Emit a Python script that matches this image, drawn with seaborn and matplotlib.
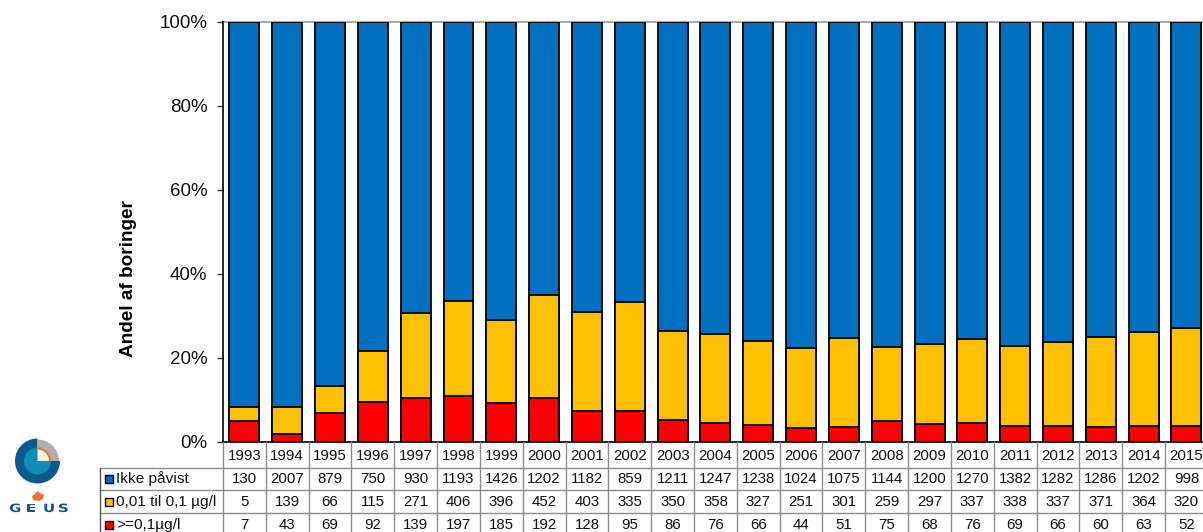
import numpy as np
import pandas as pd
import seaborn as sns
import matplotlib.pyplot as plt
from matplotlib.patches import Rectangle, Wedge, Circle, Polygon, PathPatch
from matplotlib.textpath import TextPath
from matplotlib.font_manager import FontProperties
from matplotlib.transforms import Affine2D

years = list(range(1993, 2016))
ikke = [130, 2007, 879, 750, 930, 1193, 1426, 1202, 1182, 859, 1211, 1247, 1238, 1024, 1075, 1144, 1200, 1270, 1382, 1282, 1286, 1202, 998]
mellem = [5, 139, 66, 115, 271, 406, 396, 452, 403, 335, 350, 358, 327, 251, 301, 259, 297, 337, 338, 337, 371, 364, 320]
hoej = [7, 43, 69, 92, 139, 197, 185, 192, 128, 95, 86, 76, 66, 44, 51, 75, 68, 76, 69, 66, 60, 63, 52]
names = ['Ikke påvist', '0,01 til 0,1 µg/l', '>=0,1µg/l']
colors = ['#0070C0', '#FFC000', '#FF0000']

sns.set_theme(style='white')
plt.rcParams['font.family'] = ['Liberation Sans', 'DejaVu Sans']

W, H = 1203, 532
fig = plt.figure(figsize=(W / 100, H / 100), dpi=100, facecolor='white')
step = 42.82
ax = fig.add_axes([223 / W, (H - 442) / H, 23 * step / W, 420 / H])

df = pd.DataFrame({'year': years, 'ikke': ikke, 'mellem': mellem, 'hoej': hoej})
total = df['ikke'] + df['mellem'] + df['hoej']
df['top'] = 100.0
df['mid'] = (df['mellem'] + df['hoej']) / total * 100
df['low'] = df['hoej'] / total * 100

# tallest first, the shorter ones are painted over it
for col, c in zip(['top', 'mid', 'low'], colors):
    sns.barplot(data=df, x='year', y=col, color=c, width=0.7, saturation=1,
                edgecolor='black', linewidth=1.3, ax=ax, zorder=3)

ax.set_xlim(-0.5, 22.5)
ax.set_ylim(0, 100)
ax.set_yticks(range(0, 101, 20))
ax.set_yticklabels([f'{v}%' for v in range(0, 101, 20)], fontsize=13.5, color='#111111')
ax.set_xticks([])
ax.set_xlabel('')
ax.set_ylabel('Andel af boringer', fontsize=13.7, fontweight='bold', color='black')
ax.yaxis.set_label_coords(-86 / (23 * step), 0.39)
ax.tick_params(axis='y', left=True, length=4.3, width=1, color='#333333', pad=7)
sns.despine(ax=ax, top=True, right=True)
ax.spines['left'].set_color('black')
ax.spines['left'].set_linewidth(1.2)
ax.spines['bottom'].set_color('black')
ax.spines['bottom'].set_linewidth(1.2)
ax.axhline(100, color='#999999', lw=1.2, zorder=1, clip_on=False)

# data table under the chart, drawn in pixel coordinates of the figure
over = fig.add_axes([0, 0, 1, 1], zorder=5)
over.set_xlim(0, W)
over.set_ylim(H, 0)
over.axis('off')

rows_y = [442, 467.5, 490, 513, 536]
grid = '#8c8c8c'
x0 = 223
for y in rows_y[1:]:
    over.plot([100, W], [y, y], color=grid, lw=1, solid_capstyle='butt')
over.plot([100, 100], [rows_y[1], H], color='#555555', lw=1)
for i in range(24):
    x = x0 + i * step
    over.plot([x, x], [442, H], color=grid, lw=1)

for i, year in enumerate(years):
    xc = x0 + (i + 0.5) * step
    over.text(xc, 455.5, str(year), ha='center', va='center', fontsize=10.8, color='#111111')
    for row, vals in enumerate([ikke, mellem, hoej]):
        over.text(xc, 479 + row * 23, str(vals[i]), ha='center', va='center', fontsize=10.8, color='#111111')

for row, (name, c) in enumerate(zip(names, colors)):
    yc = 479 + row * 23
    over.add_patch(Rectangle((104.5, yc - 4), 8, 8, facecolor=c, edgecolor='black', lw=1))
    over.text(116.5, yc, name, ha='left', va='center', fontsize=11.1, color='#111111')

# GEUS logo
cx, cy = 37.5, 461
over.add_patch(Wedge((cx, cy), 22.5, 0, 270, facecolor='#0A5A8C', edgecolor='none'))
over.add_patch(Wedge((cx, cy), 21.5, -90, 0, facecolor='#B3ACA8', edgecolor='none'))
over.add_patch(Circle((cx, cy), 13.5, facecolor='#0A8CB4', edgecolor='none'))
over.add_patch(Wedge((cx, cy), 13.5, -90, 0, facecolor='#F5F0DC', edgecolor='none'))
over.add_patch(Wedge((cx, cy), 13.5, -90, 0, width=2, facecolor='#E8703A', edgecolor='none'))
over.add_patch(Polygon([(32, 496), (35, 494), (37, 491), (40, 493), (44, 495), (43, 499), (39, 501), (33, 500)],
                       facecolor='#E8743C', edgecolor='none'))
# the letters are wide and squat, so stretch them as paths
logo_font = FontProperties(family='DejaVu Sans', weight='bold')
for x, letter in zip([9, 26, 43, 58], 'GEUS'):
    path = TextPath((0, 0), letter, size=12, prop=logo_font)
    tr = Affine2D().scale(1.25, -0.95).translate(x, 512)
    over.add_patch(PathPatch(path, transform=tr + over.transData, facecolor='#0A5A8C', edgecolor='none'))

fig.savefig('out.png', dpi=100)
